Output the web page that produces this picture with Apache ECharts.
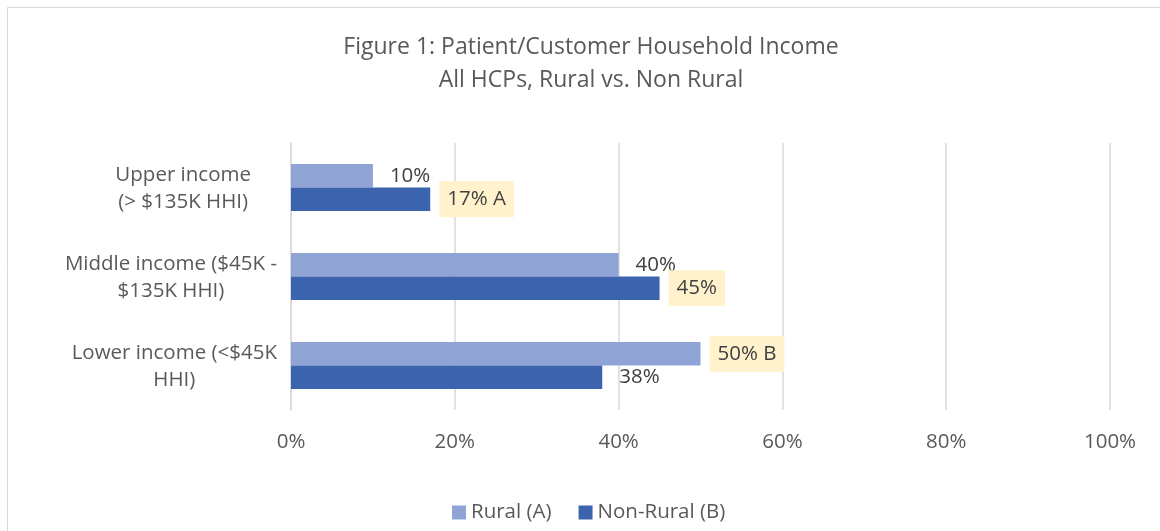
<!DOCTYPE html>
<html>
<head>
<meta charset="utf-8">
<script src="https://cdn.jsdelivr.net/npm/echarts@6/dist/echarts.min.js"></script>
<style>
html,body{margin:0;padding:0;background:#fff;}
#chart{width:1160px;height:531px;}
</style>
</head>
<body>
<div id="chart"></div>
<script>
const titleLines = ['Figure 1: Patient/Customer Household Income', 'All HCPs, Rural vs. Non Rural'];
const categories = ['Upper income\n(> $135K HHI)', 'Middle income ($45K -\n$135K HHI)', 'Lower income (<$45K\nHHI)'];
const seriesNames = ['Rural (A)', 'Non-Rural (B)'];
const ruralValues = [10, 40, 50];
const nonRuralValues = [17, 45, 38];
const ruralSig = ['', '', 'B'];
const nonRuralSig = ['A', '', ''];
const ruralHighlight = [false, false, true];
const nonRuralHighlight = [true, true, false];
const xTicks = [0, 20, 40, 60, 80, 100];

const FONT = '"Open Sans", "Noto Sans", sans-serif';

function buildData(values, sig, hl) {
  return values.map((v, i) => {
    const item = { value: v, sig: sig[i] };
    if (hl[i]) {
      item.label = { backgroundColor: '#FFF2CC' };
    }
    return item;
  });
}

const labelBase = {
  show: true,
  position: 'right',
  distance: 9,
  padding: [7, 8, 8, 8],
  color: '#404040',
  fontSize: 20.5,
  fontFamily: FONT,
  formatter: p => p.value + '%' + (p.data.sig ? ' ' + p.data.sig : '')
};

const catStyle = { align: 'center', color: '#595959', fontSize: 20.5, fontFamily: FONT, lineHeight: 27, padding: [2, 0, 0, 0] };

const chart = echarts.init(document.getElementById('chart'), null, { renderer: 'canvas' });
chart.setOption({
  backgroundColor: '#fff',
  animation: false,
  graphic: [{
    type: 'rect',
    shape: { x: 7.5, y: 7.5, width: 1200, height: 600 },
    style: { fill: 'none', stroke: '#d9d9d9', lineWidth: 1 },
    silent: true
  }],
  title: {
    text: titleLines.join('\n'),
    left: 586,
    textAlign: 'center',
    top: 26,
    textStyle: { fontFamily: FONT, fontSize: 23, fontWeight: 'normal', color: '#595959', lineHeight: 33 }
  },
  legend: {
    data: seriesNames,
    bottom: 3,
    left: 447,
    itemWidth: 14,
    itemHeight: 14,
    itemGap: 27,
    icon: 'rect',
    textStyle: { fontFamily: FONT, fontSize: 20.5, color: '#595959' }
  },
  grid: { left: 291, right: 50, top: 143, bottom: 121, containLabel: false },
  xAxis: {
    type: 'value',
    min: 0,
    max: 100,
    interval: 20,
    axisLine: { show: false },
    axisTick: { show: false },
    splitLine: { lineStyle: { color: '#d9d9d9', width: 1.5 } },
    axisLabel: {
      formatter: v => xTicks.indexOf(v) >= 0 ? v + '%' : '',
      color: '#595959', fontSize: 20.5, fontFamily: FONT, margin: 22
    }
  },
  yAxis: {
    type: 'category',
    data: categories,
    inverse: true,
    axisLine: { show: true, lineStyle: { color: '#d9d9d9', width: 1.5 } },
    axisTick: { show: false },
    axisLabel: {
      margin: 14,
      formatter: (v, idx) => (idx === 0 ? '{u|' : '{c|') + v.split('\n').join('}\n' + (idx === 0 ? '{u|' : '{c|')) + '}',
      rich: {
        c: catStyle,
        u: Object.assign({}, catStyle, { padding: [2, 26, 0, 0] })
      }
    }
  },
  series: [
    {
      name: seriesNames[0],
      type: 'bar',
      data: buildData(ruralValues, ruralSig, ruralHighlight),
      itemStyle: { color: '#8FA3D5' },
      barGap: '0%',
      barCategoryGap: '47%',
      label: labelBase
    },
    {
      name: seriesNames[1],
      type: 'bar',
      data: buildData(nonRuralValues, nonRuralSig, nonRuralHighlight),
      itemStyle: { color: '#3C64AE' },
      barGap: '0%',
      barCategoryGap: '47%',
      label: labelBase
    }
  ]
});
</script>
</body>
</html>
